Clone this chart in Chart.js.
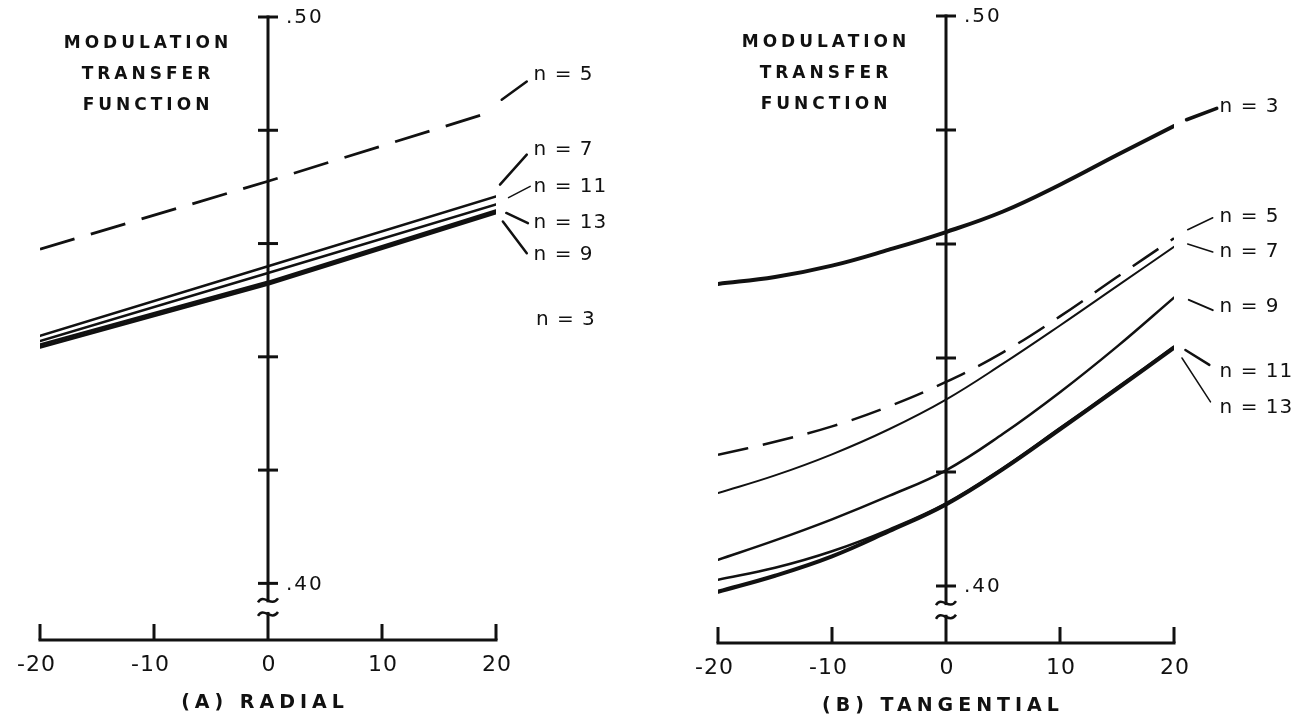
<!DOCTYPE html>
<html>
<head>
<meta charset="utf-8">
<script src="https://cdn.jsdelivr.net/npm/chart.js@4.4.1/dist/chart.umd.min.js"></script>
<style>
  html, body { margin: 0; padding: 0; background: #fff; }
  #wrap { position: relative; width: 1296px; height: 721px; overflow: hidden; background: #fff; }
  canvas { position: absolute; top: 0; }
  #radial { left: 0; }
  #tangential { left: 648px; }
</style>
</head>
<body>
<div id="wrap">
  <canvas id="radial" width="648" height="721"></canvas>
  <canvas id="tangential" width="648" height="721"></canvas>
</div>
<script>
// field positions the curves were read at
const radialX = [-20, 0, 20];
const tangentialX = [-20, -15, -10, -5, 0, 5, 10, 15, 20];

// (A) radial MTF, straight lines
const radialN5 = [0.4590, 0.4710, 0.4835];
const radialN7 = [0.4437, 0.4560, 0.4683];
const radialN11 = [0.4428, 0.4548, 0.4669];
const radialN13 = [0.4421, 0.4532, 0.4658];
const radialN9 = [0.4417, 0.4528, 0.4654];

// (B) tangential MTF
const tangN3 = [0.4530, 0.4542, 0.4562, 0.4590, 0.4621, 0.4657, 0.4704, 0.4756, 0.4807];
const tangN5 = [0.4230, 0.4253, 0.4280, 0.4315, 0.4358, 0.4410, 0.4473, 0.4542, 0.4610];
const tangN7 = [0.4163, 0.4194, 0.4231, 0.4275, 0.4327, 0.4390, 0.4457, 0.4526, 0.4595];
const tangN9 = [0.4046, 0.4080, 0.4117, 0.4158, 0.4203, 0.4267, 0.4340, 0.4420, 0.4506];
const tangN11 = [0.4011, 0.4032, 0.4061, 0.4099, 0.4145, 0.4207, 0.4277, 0.4348, 0.4420];
const tangN13 = [0.3990, 0.4018, 0.4052, 0.4096, 0.4143, 0.4205, 0.4275, 0.4346, 0.4418];

// axes
const xTicks = [-20, -10, 0, 10, 20];
const xTickLabels = ['-20', '-10', '0', '10', '20'];
const yTicks = [0.40, 0.42, 0.44, 0.46, 0.48, 0.50];
const yLabelValues = [0.40, 0.50];
const yLabelText = ['.40', '.50'];
const titleLines = ['MODULATION', 'TRANSFER', 'FUNCTION'];

const INK = '#111';
const FONT = "'DejaVu Sans', sans-serif";

// curve labels with their little leader strokes (data units)
const radialNotes = [
  { text: 'n = 5', at: [23.3, 0.4898], lead: [20.5, 0.4854, 22.7, 0.4886], w: 2.5 },
  { text: 'n = 7', at: [23.3, 0.4766], lead: [20.35, 0.4704, 22.7, 0.4757], w: 2.5 },
  { text: 'n = 11', at: [23.3, 0.4701], lead: [21.1, 0.4681, 23.0, 0.4701], w: 1.5 },
  { text: 'n = 13', at: [23.3, 0.4636], lead: [20.9, 0.4654, 22.8, 0.4636], w: 2.5 },
  { text: 'n = 9', at: [23.3, 0.4580], lead: [20.6, 0.4639, 22.7, 0.4583], w: 2.5 },
  { text: 'n = 3', at: [23.5, 0.4466] }
];
const tangentialNotes = [
  { text: 'n = 3', at: [24.0, 0.4841], lead: [21.1, 0.4818, 23.75, 0.4838], w: 3.5 },
  { text: 'n = 5', at: [24.0, 0.4648], lead: [21.2, 0.4625, 23.4, 0.4646], w: 1.5 },
  { text: 'n = 7', at: [24.0, 0.4586], lead: [21.2, 0.4600, 23.4, 0.4586], w: 1.5 },
  { text: 'n = 9', at: [24.0, 0.4490], lead: [21.3, 0.4502, 23.4, 0.4484], w: 2 },
  { text: 'n = 11', at: [24.0, 0.4376], lead: [21.0, 0.4414, 23.1, 0.4388], w: 2.5 },
  { text: 'n = 13', at: [24.0, 0.4312], lead: [20.7, 0.4400, 23.2, 0.4323], w: 1.5 }
];

function series(label, xs, ys, width, dash, smooth) {
  return {
    label: label,
    data: xs.map((x, i) => ({ x: x, y: ys[i] })),
    borderColor: INK,
    borderWidth: width,
    borderDash: dash || [],
    borderCapStyle: dash ? 'butt' : 'round',
    borderJoinStyle: 'round',
    pointRadius: 0,
    fill: false,
    tension: smooth ? 0.4 : 0
  };
}

function spaced(ctx, px) {
  if ('letterSpacing' in ctx) ctx.letterSpacing = px + 'px';
}

// hand drawn look: axis through x = 0, crossing ticks, break mark, labels
const paperAxes = {
  id: 'paperAxes',
  beforeDatasetsDraw(chart) {
    const { ctx } = chart;
    const xs = chart.scales.x, ys = chart.scales.y;
    const x0 = xs.getPixelForValue(0);
    const yTop = ys.getPixelForValue(0.50);
    const yBase = ys.getPixelForValue(ys.min);
    ctx.save();
    ctx.strokeStyle = INK;
    ctx.lineWidth = 3;
    ctx.lineCap = 'butt';

    ctx.beginPath();
    ctx.moveTo(x0, yTop - 1.5);
    ctx.lineTo(x0, yBase);
    ctx.stroke();

    yTicks.forEach(v => {
      const y = ys.getPixelForValue(v);
      ctx.beginPath();
      ctx.moveTo(x0 - 10, y);
      ctx.lineTo(x0 + 10, y);
      ctx.stroke();
    });

    const xl = xs.getPixelForValue(-20), xr = xs.getPixelForValue(20);
    ctx.beginPath();
    ctx.moveTo(xl - 1.5, yBase);
    ctx.lineTo(xr + 1.5, yBase);
    ctx.stroke();
    xTicks.forEach(v => {
      if (v === 0) return;
      const x = xs.getPixelForValue(v);
      ctx.beginPath();
      ctx.moveTo(x, yBase);
      ctx.lineTo(x, yBase - 16);
      ctx.stroke();
    });

    // axis break between .40 and the baseline
    const b1 = ys.getPixelForValue(0.3970), b2 = ys.getPixelForValue(0.3946);
    ctx.fillStyle = '#fff';
    ctx.fillRect(x0 - 3, b1 + 2, 6, b2 - b1 - 4);
    ctx.lineWidth = 2.5;
    [b1, b2].forEach(y => {
      ctx.beginPath();
      ctx.moveTo(x0 - 10, y + 2);
      ctx.bezierCurveTo(x0 - 4, y - 8, x0 + 3, y + 8, x0 + 10, y - 2);
      ctx.stroke();
    });
    ctx.restore();
  },
  afterDatasetsDraw(chart, args, opts) {
    const { ctx } = chart;
    const xs = chart.scales.x, ys = chart.scales.y;
    const x0 = xs.getPixelForValue(0);
    const yTop = ys.getPixelForValue(0.50);
    const yBase = ys.getPixelForValue(ys.min);
    ctx.save();
    ctx.fillStyle = INK;
    ctx.strokeStyle = INK;
    ctx.textBaseline = 'middle';

    // y labels, right of the axis
    ctx.font = '20px ' + FONT;
    spaced(ctx, 2);
    ctx.textAlign = 'left';
    yLabelValues.forEach((v, i) => {
      ctx.fillText(yLabelText[i], x0 + 18, ys.getPixelForValue(v) + 1);
    });

    // x labels, digits centred on the tick
    ctx.font = '22px ' + FONT;
    spaced(ctx, 1);
    xTicks.forEach((v, i) => {
      const t = xTickLabels[i];
      const digits = t.replace('-', '');
      const w = ctx.measureText(digits).width;
      ctx.textAlign = 'right';
      ctx.fillText(t, xs.getPixelForValue(v) + w / 2 + 1, yBase + 25);
    });

    // title block
    ctx.font = 'bold 17px ' + FONT;
    spaced(ctx, 4);
    ctx.textAlign = 'center';
    titleLines.forEach((t, i) => {
      ctx.fillText(t, x0 - 122 + 2, yTop + 27 + i * 31);
    });

    // panel caption
    ctx.font = 'bold 19px ' + FONT;
    spaced(ctx, 5);
    ctx.fillText(opts.caption, x0 - 3, yBase + 63);

    // curve labels
    ctx.font = '20px ' + FONT;
    spaced(ctx, 1);
    ctx.textAlign = 'left';
    ctx.lineCap = 'round';
    opts.notes.forEach(n => {
      if (n.lead) {
        ctx.lineWidth = n.w;
        ctx.beginPath();
        ctx.moveTo(xs.getPixelForValue(n.lead[0]), ys.getPixelForValue(n.lead[1]));
        ctx.lineTo(xs.getPixelForValue(n.lead[2]), ys.getPixelForValue(n.lead[3]));
        ctx.stroke();
      }
      ctx.fillText(n.text, xs.getPixelForValue(n.at[0]), ys.getPixelForValue(n.at[1]));
    });
    ctx.restore();
  }
};

function makePanel(id, datasets, pad, notes, caption) {
  return new Chart(document.getElementById(id), {
    type: 'line',
    data: { datasets: datasets },
    options: {
      responsive: false,
      animation: false,
      devicePixelRatio: 1,
      events: [],
      layout: { padding: pad },
      scales: {
        x: { type: 'linear', min: -20, max: 20, display: false },
        y: { type: 'linear', min: 0.39, max: 0.50, display: false }
      },
      plugins: {
        legend: { display: false },
        tooltip: { enabled: false },
        paperAxes: { notes: notes, caption: caption }
      }
    },
    plugins: [paperAxes]
  });
}

makePanel('radial', [
  series('n = 5', radialX, radialN5, 2.8, [36, 17]),
  series('n = 7', radialX, radialN7, 2.5),
  series('n = 11', radialX, radialN11, 2.5),
  series('n = 13', radialX, radialN13, 3),
  series('n = 9', radialX, radialN9, 3)
], { left: 40, right: 152, top: 17, bottom: 81 }, radialNotes, '(A) RADIAL');

makePanel('tangential', [
  series('n = 3', tangentialX, tangN3, 4, null, true),
  series('n = 5', tangentialX, tangN5, 2.5, [31, 15], true),
  series('n = 7', tangentialX, tangN7, 2, null, true),
  series('n = 9', tangentialX, tangN9, 2.5, null, true),
  series('n = 11', tangentialX, tangN11, 2.5, null, true),
  series('n = 13', tangentialX, tangN13, 4, null, true)
], { left: 70, right: 122, top: 16, bottom: 78 }, tangentialNotes, '(B) TANGENTIAL');
</script>
</body>
</html>
